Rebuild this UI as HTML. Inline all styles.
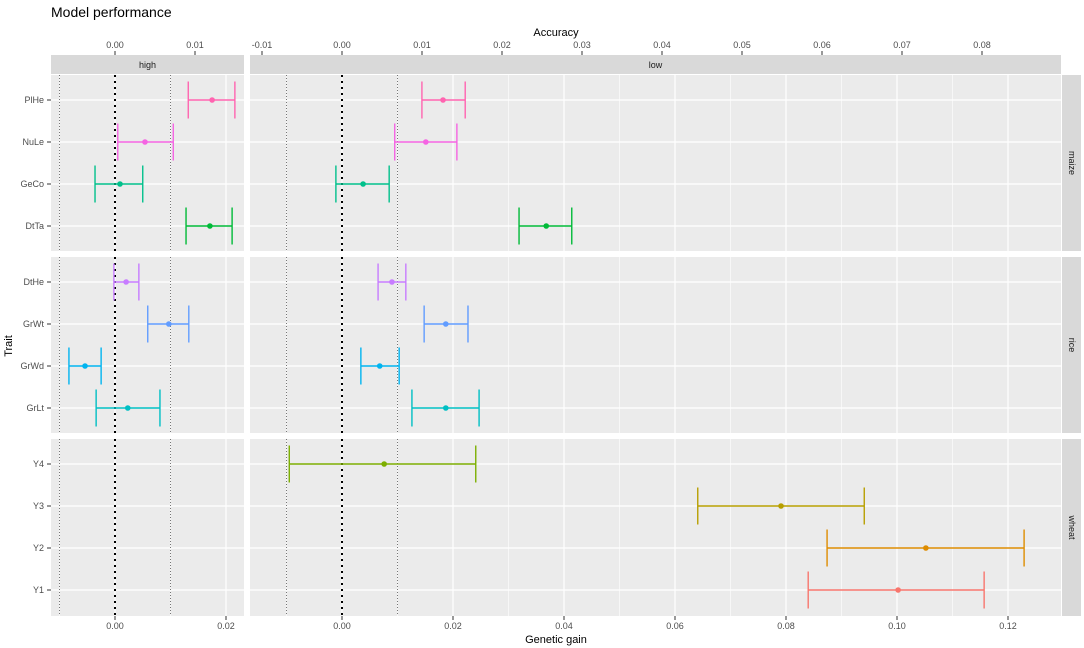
<!DOCTYPE html>
<html><head><meta charset="utf-8"><style>
body{margin:0;background:#fff;}
svg{display:block;font-family:"Liberation Sans",sans-serif;}
</style></head><body>
<svg id="chart" width="1084" height="648"></svg>
<script>
const traits = ["PlHe","NuLe","GeCo","DtTa","DtHe","GrWt","GrWd","GrLt","Y4","Y3","Y2","Y1"];
const crops = ["maize","maize","maize","maize","rice","rice","rice","rice","wheat","wheat","wheat","wheat"];
const colors = ["#FF64B0","#F564E3","#00C08B","#00BA38","#C77CFF","#619CFF","#00B4F0","#00BFC4","#7CAE00","#B79F00","#DE8C00","#F8766D"];
const lowLo  = [0.0144,0.0095,-0.0011,0.0319,0.0065,0.0148,0.0034,0.0126,-0.0095,0.0641,0.0874,0.0840];
const lowMid = [0.0182,0.0151,0.0038,0.0368,0.0090,0.0187,0.0068,0.0187,0.0076,0.0791,0.1052,0.1002];
const lowHi  = [0.0222,0.0207,0.0085,0.0414,0.0115,0.0227,0.0103,0.0247,0.0241,0.0941,0.1229,0.1157];
const highLo  = [0.0132,0.0005,-0.0036,0.0128,-0.0002,0.0059,-0.0083,-0.0034,null,null,null,null];
const highMid = [0.0175,0.0054,0.0009,0.0171,0.0020,0.0097,-0.0054,0.0023,null,null,null,null];
const highHi  = [0.0216,0.0105,0.0050,0.0211,0.0043,0.0133,-0.0025,0.0081,null,null,null,null];
const bottomTicksHigh = [0,0.02];
const bottomTicksLow = [0,0.02,0.04,0.06,0.08,0.10,0.12];
const topTicksHigh = [0,0.01];
const topTicksLow = [-0.01,0,0.01,0.02,0.03,0.04,0.05,0.06,0.07,0.08];

const NS="http://www.w3.org/2000/svg";
const svg=document.getElementById('chart');
function el(tag,attrs,parent,text){const e=document.createElementNS(NS,tag);for(const k in attrs)e.setAttribute(k,attrs[k]);if(text!==undefined)e.textContent=text;(parent||svg).appendChild(e);return e;}
const K=5550, KA=8000;
const panels=[{name:"high",x0:51,x1:244,zero:115,lo:highLo,mid:highMid,hi:highHi,bt:bottomTicksHigh,tt:topTicksHigh,minor:[-0.01,0.01]},
              {name:"low",x0:250,x1:1061,zero:342,lo:lowLo,mid:lowMid,hi:lowHi,bt:bottomTicksLow,tt:topTicksLow,minor:[-0.01,0.01,0.03,0.05,0.07,0.09,0.11]}];
const rowsP=[{crop:"maize",y0:75,y1:251},{crop:"rice",y0:257,y1:433},{crop:"wheat",y0:439,y1:616}];
const step=42;
function yRow(i){const r=rowsP[Math.floor(i/4)];return r.y0+25+(i%4)*step;}

el('text',{x:51,y:17,'font-size':14,fill:'#000',},svg,"Model performance");
el('text',{x:556,y:36,'font-size':11,'text-anchor':'middle',fill:'#000',},svg,"Accuracy");
el('text',{x:556,y:643,'font-size':11,'text-anchor':'middle',fill:'#000',},svg,"Genetic gain");
el('text',{x:12,y:346,'font-size':11,'text-anchor':'middle',fill:'#000',transform:'rotate(-90 12 346)',},svg,"Trait");

panels.forEach(p=>{
  const sx=v=>p.zero+v*K, ax=v=>p.zero+v*KA;
  el('rect',{x:p.x0,y:55,width:p.x1-p.x0,height:19,fill:'#d9d9d9',});
  el('text',{x:(p.x0+p.x1)/2,y:68,'font-size':9,'text-anchor':'middle',fill:'#1a1a1a',},svg,p.name);
  p.tt.forEach(t=>{const x=ax(t);
    el('line',{x1:x,x2:x,y1:51,y2:55,stroke:'#333','stroke-width':1});
    el('text',{x:x,y:48,'font-size':9,'text-anchor':'middle',fill:'#4d4d4d',},svg,t.toFixed(2));});
  p.bt.forEach(t=>{const x=sx(t);
    el('line',{x1:x,x2:x,y1:616,y2:620,stroke:'#333','stroke-width':1});
    el('text',{x:x,y:629,'font-size':9,'text-anchor':'middle',fill:'#4d4d4d',},svg,t.toFixed(2));});
  rowsP.forEach((r,ri)=>{
    const g=el('g',{});
    el('rect',{x:p.x0,y:r.y0,width:p.x1-p.x0,height:r.y1-r.y0,fill:'#ebebeb'},g);
    p.minor.forEach(v=>{const x=sx(v);if(x>p.x0&&x<p.x1)el('line',{x1:x,x2:x,y1:r.y0,y2:r.y1,stroke:'#fff','stroke-width':0.6},g);});
    p.bt.forEach(v=>{const x=sx(v);el('line',{x1:x,x2:x,y1:r.y0,y2:r.y1,stroke:'#fff','stroke-width':1.2},g);});
    for(let k=0;k<4;k++){const y=yRow(ri*4+k);el('line',{x1:p.x0,x2:p.x1,y1:y,y2:y,stroke:'#fff','stroke-width':1.2},g);}
    [-0.01,0.01].forEach(v=>{const x=sx(v);el('line',{x1:x,x2:x,y1:r.y0,y2:r.y1,stroke:'#555','stroke-width':0.8,'stroke-dasharray':'1 2'},g);});
    const x0=sx(0);el('line',{x1:x0,x2:x0,y1:r.y0,y2:r.y1,stroke:'#000','stroke-width':2,'stroke-dasharray':'2 4'},g);
  });
  for(let i=0;i<traits.length;i++){
    if(p.mid[i]===null)continue;
    const y=yRow(i),c=colors[i],a=sx(p.lo[i]),b=sx(p.hi[i]);
    const g=el('g',{});
    el('line',{x1:a,x2:b,y1:y,y2:y,stroke:c,'stroke-width':1.4},g);
    el('line',{x1:a,x2:a,y1:y-18.5,y2:y+18.5,stroke:c,'stroke-width':1.4},g);
    el('line',{x1:b,x2:b,y1:y-18.5,y2:y+18.5,stroke:c,'stroke-width':1.4},g);
    el('circle',{cx:sx(p.mid[i]),cy:y,r:2.8,fill:c,},g);
  }
});
rowsP.forEach(r=>{
  el('rect',{x:1062,y:r.y0,width:19,height:r.y1-r.y0,fill:'#d9d9d9',});
  const cy=(r.y0+r.y1)/2;
  el('text',{x:1071.5,y:cy,'font-size':9,'text-anchor':'middle',fill:'#1a1a1a',transform:'rotate(90 1071.5 '+cy+')','dominant-baseline':'middle',},svg,r.crop);
});
traits.forEach((t,i)=>{const y=yRow(i);
  el('line',{x1:47,x2:51,y1:y,y2:y,stroke:'#333','stroke-width':1});
  el('text',{x:44,y:y+3,'font-size':9,'text-anchor':'end',fill:'#4d4d4d',},svg,t);
});
</script>
</body></html>
